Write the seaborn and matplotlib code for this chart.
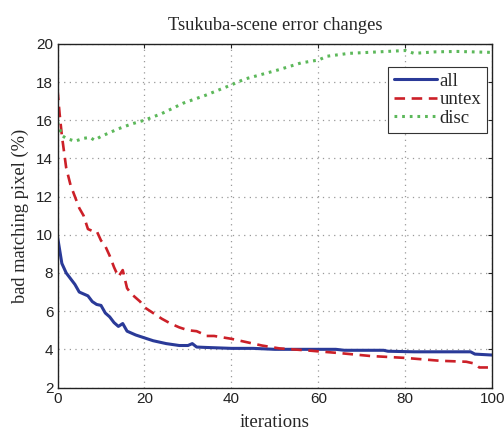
import numpy as np
import pandas as pd
import matplotlib
matplotlib.use('Agg')
import matplotlib.pyplot as plt
import seaborn as sns

# ── data ───────────────────────────────────────────────────────
all_x = [0, 1, 2, 3, 4, 5, 6, 7, 8, 9, 10, 11, 12, 13, 14, 15, 16, 17, 18,
         20, 22, 25, 28, 30, 31, 32, 34, 40, 45, 50, 60, 64, 66, 75, 76, 82,
         95, 96, 100]
all_y = [9.9, 8.5, 8.0, 7.7, 7.4, 7.0, 6.9, 6.8, 6.5, 6.35, 6.3, 5.9, 5.7,
         5.4, 5.2, 5.35, 4.95, 4.85, 4.75, 4.6, 4.45, 4.3, 4.2, 4.2, 4.3,
         4.12, 4.1, 4.05, 4.05, 4.0, 4.0, 4.0, 3.95, 3.95, 3.9, 3.87, 3.87,
         3.75, 3.7]

untex_x = [0, 0.5, 1, 2, 3, 4, 5, 6, 7, 8, 9, 10, 11, 12, 13, 14, 15, 16, 17,
           18, 19, 20, 22, 24, 26, 28, 30, 32, 33, 34, 36, 40, 44, 47, 51, 57,
           65, 72, 80, 88, 94, 96, 97, 99]
untex_y = [17.6, 16.3, 15.2, 13.5, 12.6, 12.0, 11.4, 11.0, 10.3, 10.2, 10.2,
           9.7, 9.4, 8.9, 8.3, 7.8, 8.15, 7.2, 6.9, 6.7, 6.5, 6.2, 5.9, 5.6,
           5.35, 5.15, 5.0, 4.95, 4.85, 4.7, 4.7, 4.55, 4.35, 4.2, 4.05, 3.95,
           3.8, 3.65, 3.55, 3.4, 3.35, 3.25, 3.05, 3.05]

disc_x = [0, 1, 2, 4, 6, 7.5, 8.5, 10, 12, 14, 17, 20, 24, 29, 34, 40, 43, 47,
          51, 56, 60, 62, 67, 74, 80, 82, 87, 92, 100]
disc_y = [15.9, 15.2, 15.05, 14.9, 15.05, 15.1, 14.95, 15.15, 15.35, 15.55,
          15.8, 16.0, 16.35, 16.9, 17.3, 17.85, 18.15, 18.4, 18.65, 19.0,
          19.15, 19.35, 19.5, 19.58, 19.65, 19.5, 19.58, 19.6, 19.55]

x_ticks = [0, 20, 40, 60, 80, 100]
y_ticks = [2, 4, 6, 8, 10, 12, 14, 16, 18, 20]

# ── style ──────────────────────────────────────────────────────
sns.set_style('white')
plt.rcParams['font.family'] = ['Liberation Serif', 'DejaVu Serif']

fig = plt.figure(figsize=(5.04, 4.36), dpi=100)
ax = fig.add_axes([0.1141, 0.1112, 0.8627, 0.7883])

sns.lineplot(x=all_x, y=all_y, ax=ax, color='#2a3a98', linewidth=2.2,
             label='all', sort=False)
sns.lineplot(x=untex_x, y=untex_y, ax=ax, color='#cc2028', linewidth=1.9,
             label='untex', sort=False)
sns.lineplot(x=disc_x, y=disc_y, ax=ax, color='#5cb85a', linewidth=2.2,
             label='disc', sort=False)
ax.lines[1].set_dashes([4, 2.5])
ax.lines[2].set_dashes([0.9, 1.6])

ax.set_xlim(0, 100)
ax.set_ylim(2, 20)
ax.set_xticks(x_ticks)
ax.set_yticks(y_ticks)
ax.grid(True, linestyle=(0, (1, 3.5)), color='#999999', linewidth=0.9)
ax.tick_params(direction='in', length=3, top=True, right=True,
               labelsize=11, colors='#222222', pad=3)
for lbl in ax.get_xticklabels() + ax.get_yticklabels():
    lbl.set_family(['Liberation Sans', 'DejaVu Sans'])
for s in ax.spines.values():
    s.set_color('#222222')
    s.set_linewidth(1.0)

ax.set_title('Tsukuba-scene error changes', fontsize=13.3, pad=10)
ax.set_xlabel('iterations', fontsize=13.5, labelpad=6)
ax.set_ylabel('bad matching pixel (%)', fontsize=13.3, labelpad=5)

leg = ax.legend(loc='upper right', bbox_to_anchor=(0.988, 0.9325),
                borderaxespad=0, fancybox=False, framealpha=1,
                edgecolor='#333333', fontsize=13.5, handlelength=2.3,
                handletextpad=0.15, labelspacing=0.08, borderpad=0.3)
leg.get_frame().set_linewidth(0.8)

fig.savefig('out.png', dpi=100)
